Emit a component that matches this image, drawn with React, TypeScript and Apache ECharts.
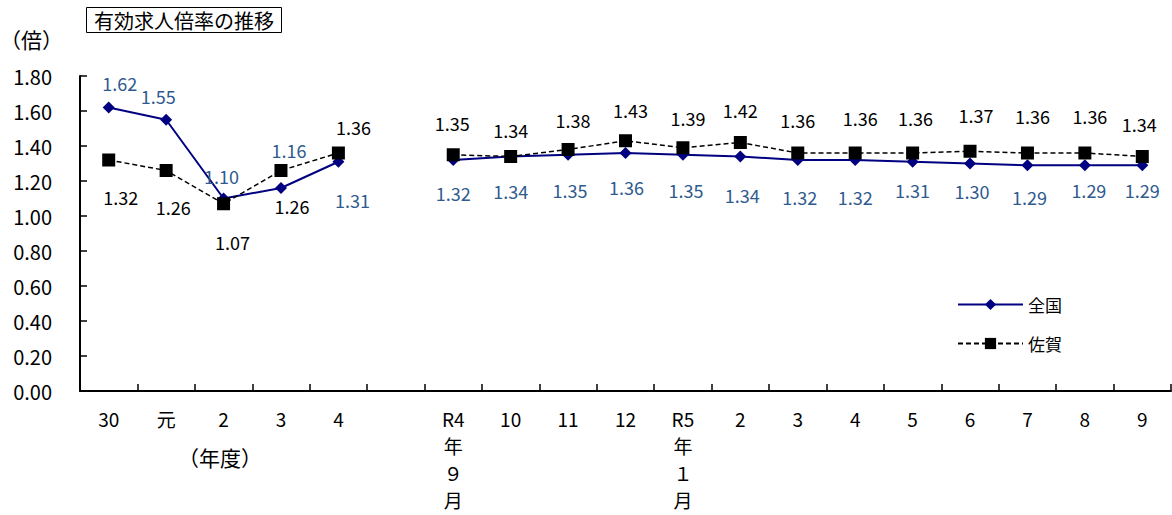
import React, { useEffect, useRef } from "react";
import * as echarts from "echarts";

const categories: string[] = [
  "30", "元", "2", "3", "4", "",
  "R4\n年\n９\n月", "10", "11", "12", "R5\n年\n１\n月",
  "2", "3", "4", "5", "6", "7", "8", "9",
];

const nationalValues: (number | null)[] = [
  1.62, 1.55, 1.10, 1.16, 1.31, null,
  1.32, 1.34, 1.35, 1.36, 1.35, 1.34, 1.32, 1.32, 1.31, 1.30, 1.29, 1.29, 1.29,
];

const sagaValues: (number | null)[] = [
  1.32, 1.26, 1.07, 1.26, 1.36, null,
  1.35, 1.34, 1.38, 1.43, 1.39, 1.42, 1.36, 1.36, 1.36, 1.37, 1.36, 1.36, 1.34,
];

const yTicks = { min: 0, max: 1.8, interval: 0.2 };

// label offsets (style only), relative to each marker centre
const nationalLabelOffsets: number[][] = [
  [11, -25], [-8, -24], [-2, -23], [8, -38], [14, 38], [0, 0],
  [0, 33], [0, 34], [2, 35], [1, 34], [3, 35], [2, 38], [2, 37], [0, 37],
  [0, 28], [2, 27], [2, 32], [4, 25], [0, 25],
];
const sagaLabelOffsets: number[][] = [
  [12, 37], [7, 36], [9, 38], [11, 35], [15, -26], [0, 0],
  [-1, -32], [0, -27], [5, -30], [5, -31], [5, -30], [0, -33], [0, -33],
  [5, -35], [3, -35], [6, -36], [5, -37], [5, -37], [-3, -33],
];

const FONT = "'Noto Sans CJK JP', 'Noto Sans', sans-serif";

export default function App() {
  const ref = useRef<HTMLDivElement>(null);

  useEffect(() => {
    if (!ref.current) return;
    const chart = echarts.init(ref.current, null, { renderer: "svg" });

    const mkData = (vals: (number | null)[], offs: number[][]) =>
      vals.map((v, i) =>
        v === null
          ? "-"
          : {
              value: v,
              label: { offset: offs[i] },
            }
      );

    chart.setOption({
      animation: false,
      backgroundColor: "#ffffff",
      textStyle: { fontFamily: FONT },
      title: {
        text: "有効求人倍率の推移",
        left: 86,
        top: 7,
        padding: [3, 8, 3, 8],
        borderColor: "#000",
        borderWidth: 1,
        textStyle: {
          fontFamily: FONT,
          fontSize: 20,
          fontWeight: "normal",
          color: "#000",
        },
      },
      graphic: [
        {
          type: "text",
          left: 0,
          top: 28,
          style: {
            text: "（倍）",
            fontFamily: FONT,
            fontSize: 21,
            fill: "#000",
          },
        },
        {
          type: "text",
          left: 178,
          top: 446,
          style: {
            text: "（年度）",
            fontFamily: FONT,
            fontSize: 21,
            fill: "#000",
          },
        },
      ],
      legend: {
        orient: "vertical",
        left: 957,
        top: 296,
        itemWidth: 65,
        itemHeight: 14,
        itemGap: 22,
        padding: 0,
        textStyle: { fontFamily: FONT, fontSize: 17, color: "#000" },
        data: ["全国", "佐賀"],
      },
      grid: { left: 80, right: 1, top: 76, bottom: 124, containLabel: false },
      xAxis: {
        type: "category",
        data: categories,
        boundaryGap: true,
        axisLine: { lineStyle: { color: "#000", width: 2 } },
        axisTick: {
          show: true,
          inside: true,
          length: 7,
          interval: 0,
          lineStyle: { color: "#000", width: 1.5 },
        },
        axisLabel: {
          interval: 0,
          color: "#000",
          fontFamily: FONT,
          fontSize: 19,
          lineHeight: 27,
          margin: 14,
        },
        splitLine: { show: false },
      },
      yAxis: {
        type: "value",
        min: yTicks.min,
        max: yTicks.max,
        interval: yTicks.interval,
        axisLine: { show: true, lineStyle: { color: "#000", width: 2 } },
        axisTick: {
          show: true,
          inside: true,
          length: 7,
          lineStyle: { color: "#000", width: 1.5 },
        },
        axisLabel: {
          color: "#000",
          fontFamily: FONT,
          fontSize: 20,
          margin: 28,
          formatter: (v: number) => v.toFixed(2),
        },
        splitLine: { show: false },
      },
      series: [
        {
          name: "全国",
          type: "line",
          data: mkData(nationalValues, nationalLabelOffsets),
          connectNulls: false,
          symbol: "diamond",
          symbolSize: 12,
          lineStyle: { color: "#000080", width: 2 },
          itemStyle: { color: "#000080" },
          label: {
            show: true,
            position: "inside",
            color: "#2F5A8E",
            fontFamily: FONT,
            fontSize: 18,
            formatter: (p: any) => Number(p.value).toFixed(2),
          },
          z: 3,
        },
        {
          name: "佐賀",
          type: "line",
          data: mkData(sagaValues, sagaLabelOffsets),
          connectNulls: false,
          symbol: "rect",
          symbolSize: 13,
          lineStyle: { color: "#000", width: 1.5, type: [5, 3] },
          itemStyle: { color: "#000" },
          label: {
            show: true,
            position: "inside",
            color: "#000",
            fontFamily: FONT,
            fontSize: 18,
            formatter: (p: any) => Number(p.value).toFixed(2),
          },
          z: 4,
        },
      ],
    });

    return () => chart.dispose();
  }, []);

  return (
    <div
      ref={ref}
      style={{ position: "fixed", left: 0, top: 0, width: 1172, height: 515 }}
    />
  );
}
